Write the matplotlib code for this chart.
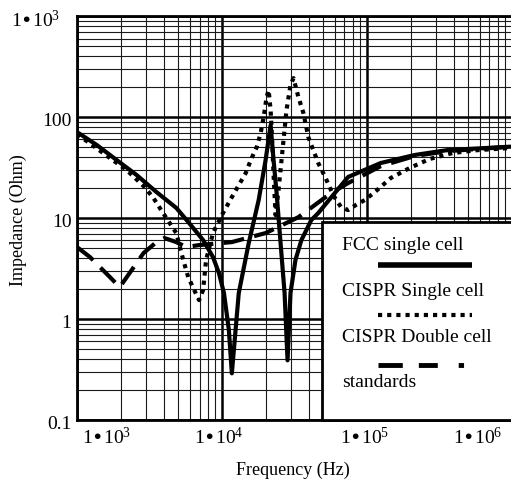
import matplotlib
matplotlib.use("Agg")
import matplotlib.pyplot as plt
from matplotlib.patches import Rectangle
from matplotlib.ticker import LogLocator, NullFormatter

# impedance curves (frequency in Hz, impedance in Ohm)
fcc_freq = [1000, 1371, 1879, 2576, 3532, 4842, 5943, 7413, 8670, 9530, 10320,
            11160, 11700, 13060, 15300, 17920, 20000, 21660, 22700, 23820, 25370,
            27040, 28340, 29700, 32140, 35320, 41330, 46130, 74130, 124700,
            213300, 359000, 1000000]
fcc_z = [71, 52.8, 37.5, 26.7, 18.1, 12.6, 8.9, 6.05, 4.11, 2.85, 1.81,
         0.78, 0.29, 1.81, 5.65, 15.1, 37.5, 83, 37.5, 17.7, 5.65,
         1.81, 0.39, 1.81, 3.84, 6.05, 9.55, 11.2, 25.5, 35.1,
         42.1, 47.1, 51]

single_freq = [1000, 1765, 2198, 2926, 3367, 3878, 4842, 5408, 5850, 6430, 6950,
               7413, 7770, 8670, 10160, 11700, 13060, 14590, 15800, 17380, 18500,
               19400, 20330, 20990, 21660, 22190, 22700, 23440, 24550, 26170,
               27870, 29700, 31150, 33660, 36450, 39420, 42650, 46130, 51530,
               58480, 66370, 74130, 84140, 96900, 113500, 146000, 197000,
               270000, 388000, 575000, 1000000]
single_z = [67.9, 37.5, 29.9, 20.3, 15.8, 11.5, 7.1, 3.84, 2.6, 1.94, 1.54,
            1.94, 3.84, 7.1, 11.2, 16.1, 21.2, 27.9, 37.5, 50.5, 69.5,
            100, 158, 185, 117, 59, 26.7, 10.7, 18.9, 47,
            117, 207, 243, 158, 110, 63.4, 47.1, 35.1, 25.5,
            16.9, 12.8, 12.0, 13.5, 15.1, 18.1, 24.9, 31.3,
            38.4, 44, 47, 49.5]

double_freq = [1000, 1228, 1683, 1972, 2382, 2877, 3532, 4008, 4842, 5662, 6950,
               11700, 20000, 33660, 56630, 74130, 124700, 213300, 359000, 1000000]
double_z = [5.16, 4.11, 2.61, 2.07, 3.05, 4.5, 5.78, 6.34, 5.78, 5.16, 5.4,
            5.78, 7.1, 10.2, 17.7, 22.2, 32.7, 41.1, 46, 51]

x_ticks = [1e3, 1e4, 1e5, 1e6]
x_tick_labels = ["1•10$^{3}$", "1•10$^{4}$", "1•10$^{5}$", "1•10$^{6}$"]
y_ticks = [1e3, 100, 10, 1, 0.1]
y_tick_labels = ["1•10$^{3}$", "100", "10", "1", "0.1"]

legend_labels = ["FCC single cell", "CISPR Single cell", "CISPR Double cell", "standards"]

plt.rcParams["font.family"] = ["Liberation Serif", "DejaVu Serif"]
plt.rcParams["mathtext.default"] = "regular"

fig = plt.figure(figsize=(5.11, 4.82), dpi=100)
ax = fig.add_axes([0.1507, 0.1286, 0.851, 0.838])
ax.set_xscale("log")
ax.set_yscale("log")
ax.set_xlim(1e3, 1e6)
ax.set_ylim(0.1, 1e3)

# grid: thin minor lines, heavier decade lines
ax.xaxis.set_minor_locator(LogLocator(base=10, subs=range(2, 10), numticks=20))
ax.yaxis.set_minor_locator(LogLocator(base=10, subs=range(2, 10), numticks=20))
ax.xaxis.set_minor_formatter(NullFormatter())
ax.yaxis.set_minor_formatter(NullFormatter())
ax.set_xticks(x_ticks)
ax.set_yticks(y_ticks)
ax.set_xticklabels([])
ax.set_yticklabels([])
ax.tick_params(which="both", length=0)
ax.grid(which="minor", color="0.1", lw=0.8)
ax.grid(which="major", color="black", lw=1.8)
ax.set_axisbelow(True)
for s in ax.spines.values():
    s.set_linewidth(2)

lw = 3
ax.plot(fcc_freq, fcc_z, color="black", lw=lw, zorder=3)
ax.plot(single_freq, single_z, color="black", lw=lw, dash_capstyle="butt",
        linestyle=(0, (1, 1.2)), zorder=3)
ax.plot(double_freq, double_z, color="black", lw=lw, dash_capstyle="butt",
        linestyle=(0, (5, 2.5)), zorder=3)

# tick labels, placed like the original (ends pulled inward)
fs = 14
for i, (v, lab) in enumerate(zip(x_ticks, x_tick_labels)):
    if i == 0:
        ha, dx = "left", 3.5
    elif i == len(x_ticks) - 1:
        ha, dx = "right", -7
    else:
        ha, dx = "center", -2
    ax.annotate(lab, xy=(v, 0), xycoords=("data", "axes fraction"),
                xytext=(dx, -5), textcoords="offset points",
                ha=ha, va="top", fontsize=fs, annotation_clip=False)
for i, (v, lab) in enumerate(zip(y_ticks, y_tick_labels)):
    dx, dy = (-12, -3) if i == 0 else (-4, -3.5)
    ax.annotate(lab, xy=(0, v), xycoords=("axes fraction", "data"),
                xytext=(dx, dy), textcoords="offset points",
                ha="right", va="center", fontsize=fs, annotation_clip=False)

fig.text(293 / 511, 1 - 470 / 482, "Frequency (Hz)", ha="center", va="center", fontsize=13)
fig.text(18 / 511, 1 - 220 / 482, "Impedance (Ohm)", ha="center", va="center",
         rotation=90, fontsize=13)

# legend panel drawn by hand (text above each line sample)
ax.add_patch(Rectangle((0.563, 0), 0.5, 0.49, transform=ax.transAxes,
                       facecolor="white", edgecolor="black", lw=2, zorder=5,
                       clip_on=False))
text_y = [0.433, 0.317, 0.205, 0.092]
for lab, ty in zip(legend_labels, text_y):
    ax.text(0.609, ty, lab, transform=ax.transAxes, ha="left", va="center",
            fontsize=fs, zorder=6)
sample_x = [0.692, 0.908]
ax.plot(sample_x, [0.384, 0.384], transform=ax.transAxes, color="black", lw=4,
        solid_capstyle="butt", zorder=6)
ax.plot(sample_x, [0.260, 0.260], transform=ax.transAxes, color="black", lw=3,
        linestyle=(0, (1, 1.2)), dash_capstyle="butt", zorder=6)
ax.plot(sample_x, [0.136, 0.136], transform=ax.transAxes, color="black", lw=3.5,
        linestyle=(0, (5, 3.3, 3.9, 4.3, 1.1, 10)), dash_capstyle="butt", zorder=6)

fig.savefig("out.png", dpi=100)
